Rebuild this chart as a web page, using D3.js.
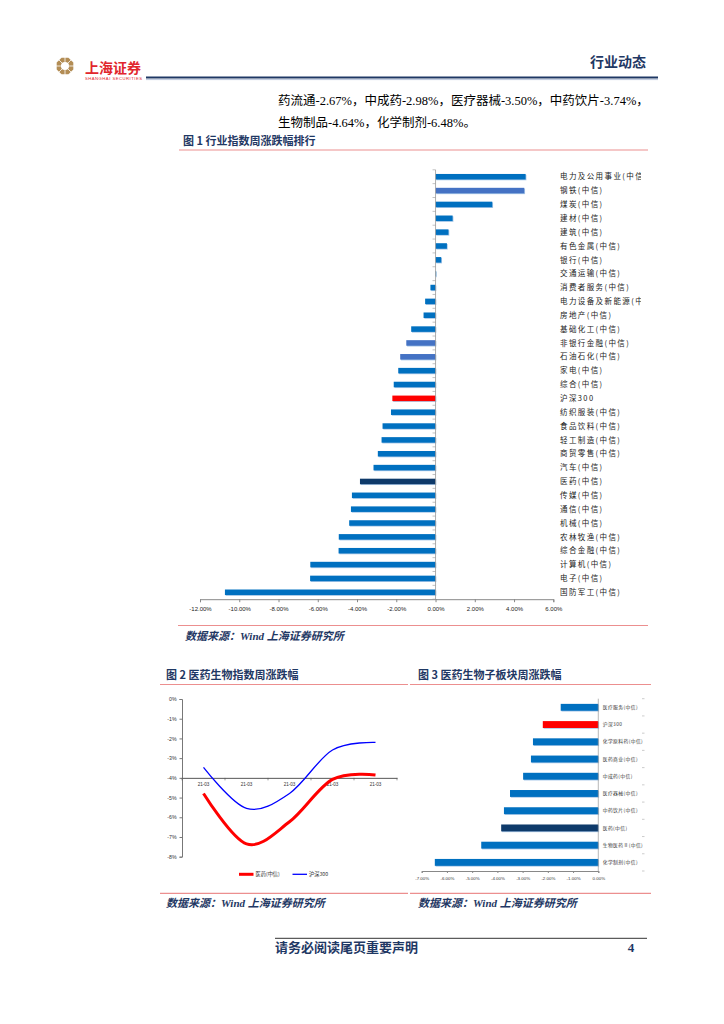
<!DOCTYPE html>
<html>
<head>
<meta charset="utf-8">
<script src="https://cdn.jsdelivr.net/npm/d3@7"></script>
<style>
  body { margin: 0; background: #fff; }
  svg { display: block; }
</style>
</head>
<body>
<svg id="page" width="724" height="1024"></svg>
<script>
// ---- data ----
const introLines = [
    "药流通-2.67%，中成药-2.98%，医疗器械-3.50%，中药饮片-3.74%，",
    "生物制品-4.64%，化学制剂-6.48%。"
];

// figure 1: weekly change of CITIC industry indices (%)
const industryNames = [
    "电力及公用事业(中信)", "钢铁(中信)", "煤炭(中信)", "建材(中信)", "建筑(中信)",
    "有色金属(中信)", "银行(中信)", "交通运输(中信)", "消费者服务(中信)", "电力设备及新能源(中信)",
    "房地产(中信)", "基础化工(中信)", "非银行金融(中信)", "石油石化(中信)", "家电(中信)",
    "综合(中信)", "沪深300", "纺织服装(中信)", "食品饮料(中信)", "轻工制造(中信)",
    "商贸零售(中信)", "汽车(中信)", "医药(中信)", "传媒(中信)", "通信(中信)",
    "机械(中信)", "农林牧渔(中信)", "综合金融(中信)", "计算机(中信)", "电子(中信)",
    "国防军工(中信)"
];
const industryChanges = [
    4.59, 4.52, 2.89, 0.87, 0.66,
    0.58, 0.29, 0.03, -0.26, -0.53,
    -0.61, -1.24, -1.49, -1.80, -1.90,
    -2.13, -2.20, -2.27, -2.70, -2.75,
    -2.94, -3.16, -3.85, -4.26, -4.31,
    -4.40, -4.93, -4.94, -6.38, -6.39,
    -10.73
];
const industryTicks = [-12, -10, -8, -6, -4, -2, 0, 2, 4, 6];
const lighterIndustries = ["钢铁(中信)", "非银行金融(中信)", "石油石化(中信)"];

// figure 2: medicine index vs CSI 300 (%)
const weekLabels = ["21-03", "21-03", "21-03", "21-03", "21-03"];
const medicineSeries = [-4.79, -7.35, -6.23, -4.08, -3.85];
const hs300Series = [-3.47, -5.55, -4.79, -2.59, -2.20];
const lineTicks = [0, -1, -2, -3, -4, -5, -6, -7, -8];
const legendNames = ["医药(中信)", "沪深300"];

// figure 3: medicine sub-sectors (%)
const sectorNames = [
    "医疗服务(中信)", "沪深300", "化学原料药(中信)", "医药商业(中信)", "中成药(中信)",
    "医疗器械(中信)", "中药饮片(中信)", "医药(中信)", "生物医药Ⅱ(中信)", "化学制剂(中信)"
];
const sectorChanges = [-1.49, -2.20, -2.59, -2.67, -2.98, -3.50, -3.74, -3.85, -4.64, -6.48];
const sectorTicks = [-7, -6, -5, -4, -3, -2, -1, 0];

const navy = "#1F3864";
const pink = "#EC8F8F";
const cjk = "'Noto Sans CJK SC', 'Noto Sans', sans-serif";
const serif = "'Liberation Serif', 'Noto Sans CJK SC', serif";
const sans = "'Liberation Sans', 'Noto Sans CJK SC', sans-serif";

const svg = d3.select("#page");

function barColor(name) {
    if (name == "沪深300") return "#FF0000";
    if (name == "医药(中信)") return "#0E3A6A";
    if (lighterIndustries.includes(name)) return "#4472C4";
    return "#0070C0";
}

function hline(x1, x2, y, color, w) {
    svg.append("line")
        .attr("x1", x1).attr("x2", x2).attr("y1", y).attr("y2", y)
        .attr("stroke", color).attr("stroke-width", w);
}

function text(x, y, str, size, opts) {
    opts = opts || {};
    return svg.append("text")
        .attr("x", x).attr("y", y)
        .attr("font-family", opts.family || cjk)
        .attr("font-size", size)
        .attr("font-weight", opts.weight || "normal")
        .attr("font-style", opts.style || "normal")
        .attr("text-anchor", opts.anchor || "start")
        .attr("fill", opts.fill || "#000")
        .text(str);
}

// ---- page header ----
function drawLogo(cx, cy, r) {
    const g = svg.append("g").attr("transform", `translate(${cx},${cy})`);
    const oct = d3.range(8).map(i => {
        const a = Math.PI / 8 + i * Math.PI / 4;
        return [r * Math.cos(a), r * Math.sin(a)];
    });
    g.append("polygon").attr("points", oct.map(p => p.join(",")).join(" ")).attr("fill", "#B38D55");
    g.append("circle").attr("r", r * 0.45).attr("fill", "#fff");
    for (let i = 0; i < 8; i++) { //split the ring into segments
        const a = i * Math.PI / 4;
        g.append("line")
            .attr("x1", r * 0.45 * Math.cos(a)).attr("y1", r * 0.45 * Math.sin(a))
            .attr("x2", r * 1.1 * Math.cos(a)).attr("y2", r * 1.1 * Math.sin(a))
            .attr("stroke", "#fff").attr("stroke-width", 0.8);
    }
}
drawLogo(65, 66, 9);
text(85, 73, "上海证券", 14, { weight: "bold", fill: "#E1262D" });
text(85, 79.5, "SHANGHAI SECURITIES", 4.2, { family: sans, fill: "#E1262D" }).attr("textLength", 57);
text(646, 67, "行业动态", 14, { weight: "bold", fill: navy, anchor: "end" });
hline(146, 658, 77.5, navy, 2.2);
hline(146, 658, 79.6, "#8EA2C6", 0.6);

introLines.forEach((line, i) => {
    text(278, 105 + i * 22, line, 12.5, { family: serif });
});

// ---- figure 1 ----
text(183, 145, "图 1 行业指数周涨跌幅排行", 11, { weight: "bold", fill: navy });
hline(179, 648, 150, pink, 1.2);

const x1 = d3.scaleLinear().domain([-12, 6]).range([200, 553.3]);
const y1 = d3.scaleBand().domain(industryNames).range([169.8, 599.2])
    .paddingInner(0.6).paddingOuter(0.3);

const fig1 = svg.append("g");
fig1.selectAll(".shade").data(industryNames).join("rect")
    .attr("x", (d, i) => Math.min(x1(0), x1(industryChanges[i])) + 0.8)
    .attr("y", d => y1(d) + 0.8)
    .attr("width", (d, i) => Math.abs(x1(industryChanges[i]) - x1(0)))
    .attr("height", y1.bandwidth())
    .attr("fill", "#A9C8E8");
fig1.selectAll(".bar").data(industryNames).join("rect")
    .attr("x", (d, i) => Math.min(x1(0), x1(industryChanges[i])))
    .attr("y", d => y1(d))
    .attr("width", (d, i) => Math.max(0.6, Math.abs(x1(industryChanges[i]) - x1(0))))
    .attr("height", y1.bandwidth())
    .attr("fill", d => barColor(d));

const axis1 = fig1.append("g").attr("transform", `translate(0,${599.2})`)
    .call(d3.axisBottom(x1).tickValues(industryTicks).tickSize(3).tickFormat(d => d.toFixed(2) + "%"));
axis1.select(".domain").attr("stroke", "#888");
axis1.selectAll(".tick line").attr("stroke", "#888");
axis1.selectAll("text").attr("font-family", sans).attr("font-size", 6).attr("fill", "#222").attr("dy", "0.9em");

// vertical axis at zero with ticks between categories
fig1.append("line").attr("x1", x1(0)).attr("x2", x1(0)).attr("y1", 169.8).attr("y2", 599.2)
    .attr("stroke", "#999").attr("stroke-width", 0.8);
fig1.selectAll(".ytick").data(d3.range(industryNames.length + 1)).join("line")
    .attr("x1", x1(0) - 3).attr("x2", x1(0))
    .attr("y1", i => 169.8 + i * y1.step()).attr("y2", i => 169.8 + i * y1.step())
    .attr("stroke", "#999").attr("stroke-width", 0.6);

svg.append("clipPath").attr("id", "labelClip")
    .append("rect").attr("x", 550).attr("y", 160).attr("width", 91).attr("height", 450);
fig1.append("g").attr("clip-path", "url(#labelClip)")
    .selectAll("text").data(industryNames).join("text")
    .attr("x", 560)
    .attr("y", d => y1(d) + y1.bandwidth() / 2 + 2.7)
    .attr("font-family", cjk).attr("font-size", 7.5).attr("letter-spacing", 1.4)
    .attr("fill", "#222")
    .text(d => d);

hline(178, 648, 625.5, pink, 1.2);
text(185, 639.5, "数据来源：Wind 上海证券研究所", 11, { weight: "bold", style: "italic", fill: navy, family: serif });

// ---- figure 2 ----
text(166, 679, "图 2 医药生物指数周涨跌幅", 11, { weight: "bold", fill: navy });
text(418, 679, "图 3 医药生物子板块周涨跌幅", 11, { weight: "bold", fill: navy });
hline(160, 408, 684.5, pink, 1.2);
hline(410, 651, 684.5, pink, 1.2);

const x2 = d3.scaleBand().domain(d3.range(weekLabels.length)).range([182, 397]);
const y2 = d3.scaleLinear().domain([-8, 0]).range([856.7, 699]);
const fig2 = svg.append("g");

const yAxis2 = fig2.append("g").attr("transform", "translate(182,0)")
    .call(d3.axisLeft(y2).tickValues(lineTicks).tickSize(2.5).tickFormat(d => d + "%"));
yAxis2.select(".domain").attr("stroke", "#777");
yAxis2.selectAll(".tick line").attr("stroke", "#777");
yAxis2.selectAll("text").attr("font-family", sans).attr("font-size", 5.2).attr("fill", "#333");

const xAxis2 = fig2.append("g").attr("transform", `translate(0,${y2(-4)})`)
    .call(d3.axisBottom(x2).tickSize(0).tickFormat(i => weekLabels[i]));
xAxis2.select(".domain").attr("stroke", "#555");
xAxis2.selectAll("text").attr("font-family", sans).attr("font-size", 4.6).attr("fill", "#333").attr("dy", "1.1em");
fig2.selectAll(".xtick").data(d3.range(weekLabels.length + 1)).join("line")
    .attr("x1", i => 182 + i * x2.step()).attr("x2", i => 182 + i * x2.step())
    .attr("y1", y2(-4)).attr("y2", y2(-4) + 2.5)
    .attr("stroke", "#555").attr("stroke-width", 0.6);

const line2 = d3.line()
    .x((d, i) => x2(i) + x2.bandwidth() / 2)
    .y(d => y2(d))
    .curve(d3.curveCatmullRom.alpha(0));
fig2.append("path").attr("d", line2(hs300Series))
    .attr("fill", "none").attr("stroke", "#0000FF").attr("stroke-width", 1.3);
fig2.append("path").attr("d", line2(medicineSeries))
    .attr("fill", "none").attr("stroke", "#FF0000").attr("stroke-width", 3);

// legend
const legendColors = ["#FF0000", "#0000FF"];
const legendWidths = [3, 1.3];
const legendX = [239, 292.5];
legendNames.forEach((name, i) => {
    fig2.append("line")
        .attr("x1", legendX[i]).attr("x2", legendX[i] + 14.5)
        .attr("y1", 874.3).attr("y2", 874.3)
        .attr("stroke", legendColors[i]).attr("stroke-width", legendWidths[i]);
    fig2.append("text").attr("x", legendX[i] + 16.5).attr("y", 876.2)
        .attr("font-family", cjk).attr("font-size", 5.2).attr("fill", "#333")
        .text(name);
});

// ---- figure 3 ----
const x3 = d3.scaleLinear().domain([-7, 0]).range([421.7, 598.3]);
const y3 = d3.scaleBand().domain(sectorNames).range([698.7, 871])
    .paddingInner(0.6).paddingOuter(0.3);
const fig3 = svg.append("g");

fig3.selectAll(".shade").data(sectorNames).join("rect")
    .attr("x", (d, i) => x3(sectorChanges[i]) + 0.8)
    .attr("y", d => y3(d) + 0.8)
    .attr("width", (d, i) => x3(0) - x3(sectorChanges[i]))
    .attr("height", y3.bandwidth())
    .attr("fill", "#A9C8E8");
fig3.selectAll(".bar").data(sectorNames).join("rect")
    .attr("x", (d, i) => x3(sectorChanges[i]))
    .attr("y", d => y3(d))
    .attr("width", (d, i) => x3(0) - x3(sectorChanges[i]))
    .attr("height", y3.bandwidth())
    .attr("fill", d => barColor(d));

const axis3 = fig3.append("g").attr("transform", "translate(0,871)")
    .call(d3.axisBottom(x3).tickValues(sectorTicks).tickSize(2).tickFormat(d => d.toFixed(2) + "%"));
axis3.select(".domain").attr("stroke", "#888");
axis3.selectAll(".tick line").attr("stroke", "#888");
axis3.selectAll("text").attr("font-family", sans).attr("font-size", 4.4).attr("fill", "#333").attr("dy", "1em");

fig3.append("line").attr("x1", x3(0)).attr("x2", x3(0)).attr("y1", 698.7).attr("y2", 871)
    .attr("stroke", "#999").attr("stroke-width", 0.7);
fig3.selectAll(".rtick").data(d3.range(sectorNames.length + 1)).join("line")
    .attr("x1", 642).attr("x2", 644.5)
    .attr("y1", i => 698.7 + i * y3.step()).attr("y2", i => 698.7 + i * y3.step())
    .attr("stroke", "#aaa").attr("stroke-width", 0.6);
fig3.selectAll(".label").data(sectorNames).join("text")
    .attr("x", 602.7)
    .attr("y", d => y3(d) + y3.bandwidth() / 2 + 1.7)
    .attr("font-family", cjk).attr("font-size", 4.8).attr("letter-spacing", 0.4)
    .attr("fill", "#333")
    .text(d => d);

hline(160, 408, 893.3, pink, 1.2);
hline(410, 651, 893.3, pink, 1.2);
text(166, 907, "数据来源：Wind 上海证券研究所", 11, { weight: "bold", style: "italic", fill: navy, family: serif });
text(418, 907, "数据来源：Wind 上海证券研究所", 11, { weight: "bold", style: "italic", fill: navy, family: serif });

// ---- footer ----
hline(275, 647, 938.3, "#333", 1);
text(275, 951.5, "请务必阅读尾页重要声明", 13, { weight: "bold", fill: navy });
text(631, 951.5, "4", 13, { weight: "bold", fill: navy, family: serif, anchor: "middle" });
</script>
</body>
</html>
